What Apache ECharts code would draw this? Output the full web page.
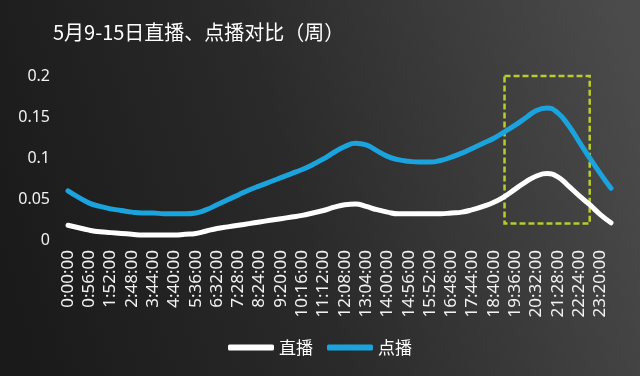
<!DOCTYPE html>
<html>
<head>
<meta charset="utf-8">
<script src="https://cdn.jsdelivr.net/npm/echarts@6/dist/echarts.min.js"></script>
<style>
  html, body { margin: 0; padding: 0; }
  #chart { width: 640px; height: 376px; }
</style>
</head>
<body>
<div id="chart"></div>
<script>
// 时间点（每28分钟一个，标签隔一个显示）
const times = [
  '0:00:00', '0:28:00', '0:56:00', '1:24:00', '1:52:00', '2:20:00', '2:48:00', '3:16:00',
  '3:44:00', '4:12:00', '4:40:00', '5:08:00', '5:36:00', '6:04:00', '6:32:00', '7:00:00',
  '7:28:00', '7:56:00', '8:24:00', '8:52:00', '9:20:00', '9:48:00', '10:16:00', '10:44:00',
  '11:12:00', '11:40:00', '12:08:00', '12:36:00', '13:04:00', '13:32:00', '14:00:00', '14:28:00',
  '14:56:00', '15:24:00', '15:52:00', '16:20:00', '16:48:00', '17:16:00', '17:44:00', '18:12:00',
  '18:40:00', '19:08:00', '19:36:00', '20:04:00', '20:32:00', '21:00:00', '21:28:00', '21:56:00',
  '22:24:00', '22:52:00', '23:20:00', '23:48:00'
]
// 直播
const liveData = [
  0.018, 0.015, 0.012, 0.010, 0.009, 0.008, 0.007, 0.006, 0.006, 0.006, 0.006, 0.007, 0.008,
  0.011, 0.014, 0.016, 0.018, 0.020, 0.022, 0.024, 0.026, 0.028, 0.030, 0.033, 0.036, 0.040,
  0.043, 0.044, 0.041, 0.037, 0.034, 0.032, 0.032, 0.032, 0.032, 0.032, 0.033, 0.034, 0.037,
  0.041, 0.046, 0.053, 0.062, 0.071, 0.078, 0.081, 0.077, 0.066, 0.054, 0.043, 0.031, 0.021
]
// 点播
const vodData = [
  0.060, 0.052, 0.045, 0.041, 0.038, 0.036, 0.034, 0.033, 0.033, 0.032, 0.032, 0.032, 0.033,
  0.037, 0.043, 0.049, 0.055, 0.061, 0.066, 0.071, 0.076, 0.081, 0.086, 0.092, 0.099, 0.107,
  0.114, 0.118, 0.116, 0.109, 0.102, 0.098, 0.096, 0.095, 0.095, 0.097, 0.101, 0.106, 0.112,
  0.118, 0.124, 0.132, 0.140, 0.149, 0.158, 0.161, 0.155, 0.140, 0.120, 0.100, 0.081, 0.063
]
const yTicks = [0, 0.05, 0.1, 0.15, 0.2]
// 高峰框选范围
const peakBox = { from: '19:08:00', to: '22:52:00', low: 0.02, high: 0.2 }

const chart = echarts.init(document.getElementById('chart'))
chart.setOption({
  backgroundColor: {
    type: 'linear',
    x: 0, y: 0.7, x2: 1, y2: 0.2,
    colorStops: [
      { offset: 0, color: '#1a1a1a' },
      { offset: 0.45, color: '#2a2a2a' },
      { offset: 1, color: '#4b4b4b' }
    ]
  },
  title: {
    text: '5月9-15日直播、点播对比（周）',
    left: 48,
    top: 17,
    textStyle: {
      color: '#fff',
      fontSize: 20,
      fontWeight: 'normal',
      fontFamily: 'Noto Sans CJK SC'
    }
  },
  legend: {
    data: ['直播', '点播'],
    bottom: 15,
    left: 'center',
    icon: 'roundRect',
    itemWidth: 46,
    itemHeight: 6,
    itemGap: 14,
    textStyle: {
      color: '#fff',
      fontSize: 17,
      fontFamily: 'Noto Sans CJK SC'
    }
  },
  grid: {
    left: 68,
    right: 29,
    top: 76,
    bottom: 136,
    containLabel: false
  },
  xAxis: {
    type: 'category',
    boundaryGap: false,
    data: times,
    axisLine: { show: false },
    axisTick: { show: false },
    axisLabel: {
      interval: 1,
      rotate: 90,
      margin: 10,
      color: '#f2f2f2',
      fontSize: 17,
      fontFamily: 'Noto Sans'
    }
  },
  yAxis: {
    type: 'value',
    min: yTicks[0],
    max: yTicks[yTicks.length - 1],
    interval: 0.05,
    splitLine: { show: false },
    axisLine: { show: false },
    axisTick: { show: false },
    axisLabel: {
      margin: 18,
      color: '#f2f2f2',
      fontSize: 16,
      fontFamily: 'Noto Sans'
    }
  },
  series: [
    {
      name: '直播',
      type: 'line',
      data: liveData,
      smooth: 0.5,
      symbol: 'none',
      color: '#ffffff',
      lineStyle: { width: 5, color: '#ffffff', cap: 'round' },
      z: 3
    },
    {
      name: '点播',
      type: 'line',
      data: vodData,
      smooth: 0.5,
      symbol: 'none',
      color: '#1aa3dd',
      lineStyle: { width: 5, color: '#1aa3dd', cap: 'round' },
      z: 2,
      markArea: {
        silent: true,
        itemStyle: {
          color: 'rgba(0,0,0,0)',
          borderColor: '#b9cc2e',
          borderWidth: 2.5,
          borderType: [6, 3]
        },
        data: [
          [
            { xAxis: peakBox.from, yAxis: peakBox.high },
            { xAxis: peakBox.to, yAxis: peakBox.low }
          ]
        ]
      }
    }
  ]
})
</script>
</body>
</html>
